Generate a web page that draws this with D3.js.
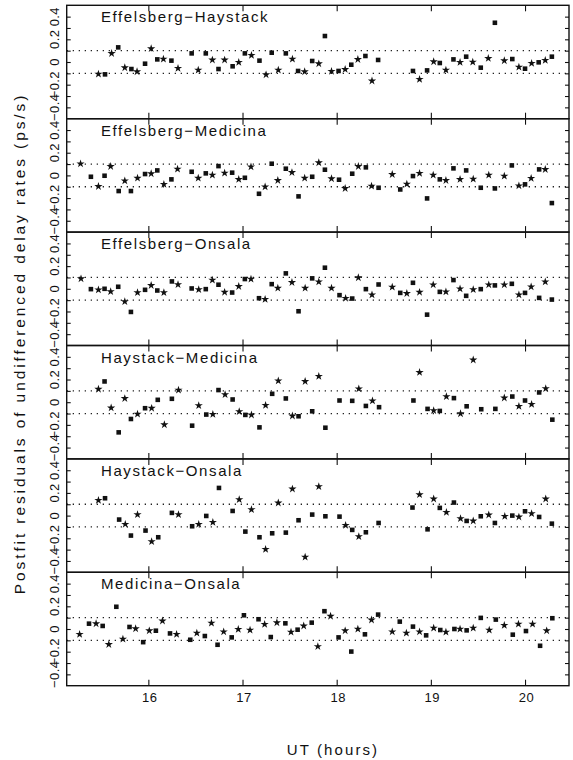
<!DOCTYPE html>
<html>
<head>
<meta charset="utf-8">
<script src="https://cdn.jsdelivr.net/npm/d3@7"></script>
<style>
body { margin: 0; background: #fff; }
text { font-family: "Liberation Sans", Arial, sans-serif; fill: #111; }
</style>
</head>
<body>
<div id="vis"></div>
<script>
// baselines, one array per panel: [UT hour, residual (ps/s), marker]  s = square, * = star
var effelsbergHaystack = [
	[15.47,-0.106,"*"],[15.54,-0.109,"s"],[15.61,0.076,"*"],[15.68,0.129,"s"],[15.75,-0.050,"*"],[15.82,-0.062,"s"],
	[15.88,-0.085,"*"],[15.965,-0.015,"s"],[16.03,0.118,"*"],[16.095,0.023,"s"],[16.16,0.026,"*"],[16.245,0.012,"s"],
	[16.315,-0.056,"*"],[16.46,0.076,"s"],[16.53,-0.071,"*"],[16.61,0.076,"s"],[16.68,0.018,"*"],[16.745,-0.062,"s"],
	[16.81,0.018,"*"],[16.895,-0.038,"s"],[16.96,-0.003,"*"],[17.025,0.076,"s"],[17.095,0.059,"*"],[17.18,0.012,"s"],
	[17.25,-0.112,"*"],[17.31,0.082,"s"],[17.38,-0.071,"*"],[17.46,0.076,"s"],[17.53,0.026,"*"],[17.59,-0.079,"s"],
	[17.66,-0.085,"*"],[17.74,0.009,"s"],[17.81,-0.015,"*"],[17.875,0.229,"s"],[17.945,-0.082,"*"],[18.02,-0.079,"s"],
	[18.09,-0.065,"*"],[18.155,-0.024,"s"],[18.225,0.023,"*"],[18.305,0.053,"s"],[18.375,-0.167,"*"],[18.44,0.018,"s"],
	[18.81,-0.079,"s"],[18.88,-0.153,"*"],[18.96,-0.074,"s"],[19.03,0.003,"*"],[19.095,-0.009,"s"],[19.16,-0.071,"*"],
	[19.24,0.023,"s"],[19.31,-0.003,"*"],[19.375,0.047,"s"],[19.445,0.0,"*"],[19.53,-0.05,"s"],[19.61,0.032,"*"],
	[19.68,0.346,"s"],[19.78,0.012,"*"],[19.865,0.026,"s"],[19.935,-0.044,"*"],[20.0,-0.059,"s"],[20.07,-0.012,"*"],
	[20.145,-0.003,"s"],[20.215,0.015,"*"],[20.285,0.047,"s"]
];
var effelsbergMedicina = [
	[15.28,0.103,"*"],[15.39,-0.012,"s"],[15.47,-0.097,"*"],[15.535,-0.003,"s"],[15.60,0.079,"*"],[15.685,-0.138,"s"],
	[15.75,-0.047,"*"],[15.815,-0.138,"s"],[15.885,-0.024,"*"],[15.965,0.012,"s"],[16.03,0.015,"*"],[16.095,0.044,"s"],
	[16.165,-0.079,"*"],[16.245,-0.035,"s"],[16.31,0.056,"*"],[16.46,0.032,"s"],[16.53,-0.024,"*"],[16.61,0.018,"s"],
	[16.68,0.003,"*"],[16.745,0.082,"s"],[16.81,0.021,"*"],[16.89,0.024,"s"],[16.96,-0.035,"*"],[17.025,-0.021,"s"],
	[17.09,0.076,"*"],[17.175,-0.162,"s"],[17.24,-0.10,"*"],[17.31,0.103,"s"],[17.375,-0.044,"*"],[17.46,0.059,"s"],
	[17.525,0.026,"*"],[17.595,-0.185,"s"],[17.66,-0.024,"*"],[17.74,-0.012,"s"],[17.81,0.112,"*"],[17.875,0.05,"s"],
	[17.945,-0.029,"*"],[18.025,-0.038,"s"],[18.09,-0.115,"*"],[18.165,0.015,"s"],[18.23,0.079,"*"],[18.31,0.071,"s"],
	[18.37,-0.094,"*"],[18.445,-0.109,"s"],[18.59,0.009,"*"],[18.675,-0.124,"s"],[18.745,-0.076,"*"],[18.81,-0.006,"s"],
	[18.88,0.018,"*"],[18.96,-0.203,"s"],[19.025,0.003,"*"],[19.095,-0.035,"s"],[19.16,-0.044,"*"],[19.24,0.062,"s"],
	[19.31,-0.035,"*"],[19.375,0.044,"s"],[19.45,-0.032,"*"],[19.53,-0.109,"s"],[19.615,0.003,"*"],[19.68,-0.115,"s"],
	[19.78,-0.006,"*"],[19.86,0.088,"s"],[19.935,-0.091,"*"],[20.0,-0.079,"s"],[20.065,-0.026,"*"],[20.15,0.053,"s"],
	[20.215,0.053,"*"],[20.285,-0.244,"s"]
];
var effelsbergOnsala = [
	[15.285,0.089,"*"],[15.39,-0.003,"s"],[15.47,-0.009,"*"],[15.535,0.0,"s"],[15.60,-0.024,"*"],[15.68,0.018,"s"],
	[15.75,-0.112,"*"],[15.815,-0.204,"s"],[15.885,-0.033,"*"],[15.965,-0.009,"s"],[16.03,0.030,"*"],[16.095,-0.015,"s"],
	[16.165,-0.033,"*"],[16.25,0.065,"s"],[16.315,0.038,"*"],[16.46,0.003,"s"],[16.535,-0.006,"*"],[16.61,-0.003,"s"],
	[16.68,0.077,"*"],[16.745,0.036,"s"],[16.81,-0.030,"*"],[16.89,-0.033,"s"],[16.96,0.021,"*"],[17.025,0.086,"s"],
	[17.09,0.086,"*"],[17.175,-0.083,"s"],[17.24,-0.092,"*"],[17.31,0.041,"s"],[17.375,0.006,"*"],[17.46,0.136,"s"],
	[17.525,0.056,"*"],[17.595,-0.198,"s"],[17.665,0.006,"*"],[17.74,0.092,"s"],[17.81,0.062,"*"],[17.875,0.186,"s"],
	[17.945,0.006,"*"],[18.03,-0.056,"s"],[18.095,-0.083,"*"],[18.165,-0.086,"s"],[18.23,0.098,"*"],[18.31,-0.003,"s"],
	[18.375,-0.053,"*"],[18.445,0.038,"s"],[18.59,0.015,"*"],[18.675,-0.036,"s"],[18.745,-0.041,"*"],[18.81,0.053,"s"],
	[18.88,-0.030,"*"],[18.96,-0.228,"s"],[19.025,0.036,"*"],[19.095,-0.027,"s"],[19.16,-0.027,"*"],[19.24,0.077,"s"],
	[19.31,0.0,"*"],[19.375,-0.062,"s"],[19.45,-0.006,"*"],[19.53,-0.003,"s"],[19.615,0.036,"*"],[19.68,0.030,"s"],
	[19.78,0.036,"*"],[19.86,0.044,"s"],[19.935,-0.053,"*"],[20.0,-0.036,"s"],[20.065,0.018,"*"],[20.15,-0.080,"s"],
	[20.215,0.062,"*"],[20.285,-0.095,"s"]
];
var haystackMedicina = [
	[15.47,0.115,"*"],[15.535,0.183,"s"],[15.605,-0.050,"*"],[15.685,-0.266,"s"],[15.75,0.033,"*"],[15.815,-0.148,"s"],
	[15.885,-0.104,"*"],[15.965,-0.053,"s"],[16.035,-0.053,"*"],[16.10,0.021,"s"],[16.17,-0.198,"*"],[16.25,0.030,"s"],
	[16.32,0.107,"*"],[16.465,-0.207,"s"],[16.535,-0.030,"*"],[16.615,-0.109,"s"],[16.685,-0.107,"*"],[16.745,0.107,"s"],
	[16.815,0.068,"*"],[16.895,0.024,"s"],[16.965,-0.083,"*"],[17.03,-0.112,"s"],[17.095,-0.112,"*"],[17.18,-0.222,"s"],
	[17.245,-0.027,"*"],[17.315,0.074,"s"],[17.38,0.189,"*"],[17.46,0.033,"s"],[17.53,-0.121,"*"],[17.595,-0.124,"s"],
	[17.665,0.183,"*"],[17.74,-0.080,"s"],[17.81,0.228,"*"],[17.88,-0.225,"s"],[18.03,0.015,"s"],[18.165,0.012,"s"],
	[18.235,0.118,"*"],[18.31,-0.033,"s"],[18.38,0.012,"*"],[18.45,-0.044,"s"],[18.815,0.015,"s"],[18.88,0.263,"*"],
	[18.965,-0.059,"s"],[19.03,-0.074,"*"],[19.095,-0.077,"s"],[19.165,0.050,"*"],[19.245,0.036,"s"],[19.315,-0.101,"*"],
	[19.38,-0.036,"s"],[19.45,0.373,"*"],[19.535,-0.062,"s"],[19.685,-0.059,"s"],[19.78,0.038,"*"],[19.865,0.050,"s"],
	[19.935,-0.036,"*"],[20.0,0.015,"s"],[20.07,-0.018,"*"],[20.15,0.086,"s"],[20.22,0.121,"*"],[20.29,-0.154,"s"]
];
var haystackOnsala = [
	[15.47,0.135,"*"],[15.54,0.153,"s"],[15.69,-0.035,"s"],[15.755,-0.076,"*"],[15.815,-0.176,"s"],[15.885,0.009,"*"],
	[15.97,-0.132,"s"],[16.035,-0.229,"*"],[16.105,-0.191,"s"],[16.25,0.024,"s"],[16.32,0.009,"*"],[16.465,-0.094,"s"],
	[16.535,-0.076,"*"],[16.615,-0.003,"s"],[16.685,-0.059,"*"],[16.75,0.244,"s"],[16.895,0.041,"s"],[16.965,0.141,"*"],
	[17.03,-0.141,"s"],[17.095,0.053,"*"],[17.18,-0.191,"s"],[17.245,-0.297,"*"],[17.315,-0.156,"s"],[17.38,0.112,"*"],
	[17.46,-0.150,"s"],[17.53,0.235,"*"],[17.595,-0.041,"s"],[17.665,-0.365,"*"],[17.74,0.009,"s"],[17.81,0.256,"*"],
	[17.88,-0.006,"s"],[18.03,-0.009,"s"],[18.095,-0.085,"*"],[18.165,-0.126,"s"],[18.235,-0.185,"*"],[18.31,-0.147,"s"],
	[18.445,-0.065,"s"],[18.805,0.071,"s"],[18.88,0.185,"*"],[18.965,-0.121,"s"],[19.03,0.147,"*"],[19.095,0.068,"s"],
	[19.165,0.029,"*"],[19.245,0.115,"s"],[19.315,-0.026,"*"],[19.38,-0.047,"s"],[19.45,-0.047,"*"],[19.53,-0.006,"s"],
	[19.615,0.006,"*"],[19.68,-0.065,"s"],[19.785,-0.006,"*"],[19.865,0.0,"s"],[19.935,-0.012,"*"],[20.0,0.038,"s"],
	[20.07,0.018,"*"],[20.15,-0.012,"s"],[20.22,0.147,"*"],[20.285,-0.071,"s"]
];
var medicinaOnsala = [
	[15.27,-0.047,"*"],[15.37,0.047,"s"],[15.445,0.047,"*"],[15.515,0.027,"s"],[15.58,-0.136,"*"],[15.66,0.196,"s"],
	[15.73,-0.089,"*"],[15.80,0.018,"s"],[15.865,0.003,"*"],[15.945,-0.116,"s"],[16.01,-0.015,"*"],[16.08,-0.015,"s"],
	[16.15,0.071,"*"],[16.23,-0.039,"s"],[16.30,-0.047,"*"],[16.445,-0.095,"s"],[16.515,-0.036,"*"],[16.60,-0.062,"s"],
	[16.67,0.053,"*"],[16.735,-0.139,"s"],[16.80,-0.024,"*"],[16.885,-0.074,"s"],[16.955,-0.003,"*"],[17.015,0.121,"s"],
	[17.08,-0.009,"*"],[17.17,0.086,"s"],[17.235,0.041,"*"],[17.30,-0.071,"s"],[17.365,0.056,"*"],[17.455,0.050,"s"],
	[17.515,-0.027,"*"],[17.585,-0.006,"s"],[17.65,0.027,"*"],[17.735,0.056,"s"],[17.80,-0.154,"*"],[17.87,0.157,"s"],
	[17.935,0.113,"*"],[18.02,-0.074,"s"],[18.09,-0.015,"*"],[18.155,-0.199,"s"],[18.225,0.0,"*"],[18.30,-0.047,"s"],
	[18.37,0.080,"*"],[18.44,0.127,"s"],[18.59,-0.024,"*"],[18.67,0.065,"s"],[18.74,-0.036,"*"],[18.81,0.021,"s"],
	[18.88,-0.024,"*"],[18.95,-0.056,"s"],[19.03,0.009,"*"],[19.10,-0.009,"s"],[19.16,-0.027,"*"],[19.25,0.0,"s"],
	[19.31,0.0,"*"],[19.38,-0.012,"s"],[19.45,0.009,"*"],[19.53,0.098,"s"],[19.62,-0.009,"*"],[19.69,0.083,"s"],
	[19.78,0.033,"*"],[19.87,-0.050,"s"],[19.93,0.044,"*"],[20.01,-0.018,"s"],[20.08,0.044,"*"],[20.16,-0.148,"s"],
	[20.23,-0.015,"*"],[20.29,0.095,"s"]
];

var baselineNames = ["Effelsberg\u2212Haystack", "Effelsberg\u2212Medicina", "Effelsberg\u2212Onsala",
	"Haystack\u2212Medicina", "Haystack\u2212Onsala", "Medicina\u2212Onsala"];
var baselineData = [effelsbergHaystack, effelsbergMedicina, effelsbergOnsala,
	haystackMedicina, haystackOnsala, medicinaOnsala];

var hourTicks = [16, 17, 18, 19, 20];
var yMinorTicks = [-0.4, -0.3, -0.2, -0.1, 0, 0.1, 0.2, 0.3, 0.4];
var yLabelTicks = [-0.4, -0.2, 0, 0.2, 0.4];
var yLabelText = ["\u22120.4", "\u22120.2", "0", "0.2", "0.4"];
var bandLimits = [-0.1, 0.1];

var w = 573;
var h = 760;
var left = 66.7;
var right = 569;
var top0 = 5.3;
var panelH = 113.4;

var svg = d3.select("#vis")
	.append("svg")
	.attr("width", w)
	.attr("height", h);

var x = d3.scaleLinear()
	.domain([15.133, 20.467])
	.range([left, right]);

var starPath = d3.symbol().type(d3.symbolStar).size(21)();
var squarePath = d3.symbol().type(d3.symbolSquare).size(21)();

baselineData.forEach(function(data, i) {
	var pt = top0 + i * panelH;
	var y = d3.scaleLinear()
		.domain([-0.5, 0.5])
		.range([pt + panelH, pt]);

	var g = svg.append("g").attr("class", "panel");

	//dotted band at +-0.1
	g.selectAll(".band")
		.data(bandLimits)
		.enter()
		.append("line")
		.attr("x1", left)
		.attr("x2", right)
		.attr("y1", function(d) { return y(d); })
		.attr("y2", function(d) { return y(d); })
		.attr("stroke", "#222")
		.attr("stroke-width", 1.3)
		.attr("stroke-dasharray", "1.3,4.7");

	//ticks, all pointing inward
	g.append("g")
		.attr("transform", "translate(" + left + ",0)")
		.call(d3.axisLeft(y).tickValues(yMinorTicks).tickSize(-4).tickFormat(""));
	g.append("g")
		.attr("transform", "translate(" + right + ",0)")
		.call(d3.axisRight(y).tickValues(yMinorTicks).tickSize(-4).tickFormat(""));
	g.append("g")
		.attr("transform", "translate(0," + pt + ")")
		.call(d3.axisTop(x).tickValues(hourTicks).tickSize(-6).tickFormat(""));
	g.append("g")
		.attr("transform", "translate(0," + (pt + panelH) + ")")
		.call(d3.axisBottom(x).tickValues(hourTicks).tickSize(-6).tickFormat(""));
	g.selectAll(".domain").remove();
	g.selectAll(".tick line").attr("stroke", "#111").attr("stroke-width", 1.1);

	//frame
	g.append("rect")
		.attr("x", left)
		.attr("y", pt)
		.attr("width", right - left)
		.attr("height", panelH)
		.attr("fill", "none")
		.attr("stroke", "#111")
		.attr("stroke-width", 1.4);

	//rotated y labels
	g.selectAll(".ylab")
		.data(yLabelTicks)
		.enter()
		.append("text")
		.attr("class", "ylab")
		.attr("transform", function(d) { return "translate(59," + y(d) + ") rotate(-90)"; })
		.attr("text-anchor", "middle")
		.style("font-size", "13px")
		.style("letter-spacing", "0.4px")
		.text(function(d, k) { return yLabelText[k]; });

	g.append("text")
		.text(baselineNames[i])
		.attr("x", 101)
		.attr("y", pt + 17)
		.style("font-size", "15px")
		.style("letter-spacing", "1.6px");

	g.selectAll(".pt")
		.data(data)
		.enter()
		.append("path")
		.attr("class", "pt")
		.attr("d", function(d) { return d[2] == "*" ? starPath : squarePath; })
		.attr("transform", function(d) { return "translate(" + x(d[0]) + "," + y(d[1]) + ")"; })
		.attr("fill", "#111");
});

//hour labels under the last panel
svg.selectAll(".xlab")
	.data(hourTicks)
	.enter()
	.append("text")
	.attr("class", "xlab")
	.attr("x", function(d) { return x(d) + 1.5; })
	.attr("y", 702)
	.attr("text-anchor", "middle")
	.style("font-size", "13px")
	.style("letter-spacing", "0.5px")
	.text(function(d) { return d; });

svg.append("text")
	.text("UT (hours)")
	.attr("x", 333)
	.attr("y", 755)
	.attr("text-anchor", "middle")
	.style("font-size", "15px")
	.style("letter-spacing", "2.1px");

svg.append("text")
	.text("Postfit residuals of undifferenced delay rates (ps/s)")
	.attr("transform", "translate(25," + (top0 + 3 * panelH - 2) + ") rotate(-90)")
	.attr("text-anchor", "middle")
	.style("font-size", "15.5px")
	.style("letter-spacing", "2.9px");
</script>
</body>
</html>
